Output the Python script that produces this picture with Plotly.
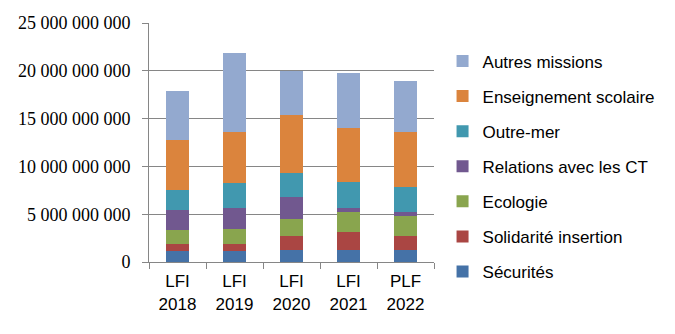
import plotly.graph_objects as go

# Budget by mission and finance law, in euros
categories = ["LFI<br>2018", "LFI<br>2019", "LFI<br>2020", "LFI<br>2021", "PLF<br>2022"]

securites = [1.15e9, 1.15e9, 1.26e9, 1.26e9, 1.26e9]
solidarite_insertion = [0.74e9, 0.74e9, 1.46e9, 1.88e9, 1.46e9]
ecologie = [1.46e9, 1.57e9, 1.78e9, 2.10e9, 2.10e9]
relations_ct = [2.10e9, 2.20e9, 2.31e9, 0.42e9, 0.42e9]
outre_mer = [2.13e9, 2.62e9, 2.51e9, 2.72e9, 2.62e9]
enseignement_scolaire = [5.23e9, 5.34e9, 6.08e9, 5.66e9, 5.76e9]
autres_missions = [5.10e9, 8.27e9, 4.61e9, 5.76e9, 5.34e9]

series = [
    ("Sécurités", securites, "#4572A7"),
    ("Solidarité insertion", solidarite_insertion, "#AA4643"),
    ("Ecologie", ecologie, "#89A54E"),
    ("Relations avec les CT", relations_ct, "#71588F"),
    ("Outre-mer", outre_mer, "#4198AF"),
    ("Enseignement scolaire", enseignement_scolaire, "#DB843D"),
    ("Autres missions", autres_missions, "#93A9CF"),
]

fig = go.Figure()
for i, (name, values, color) in enumerate(series):
    fig.add_trace(go.Bar(
        x=categories, y=values, name=name,
        marker=dict(color=color, line=dict(width=0)),
        legendgroup=name,
        legendrank=1000 - i,  # top segment listed first
    ))

grid = "#868686"
fig.update_layout(
    barmode="stack",
    bargap=0.6,
    width=675, height=334,
    margin=dict(l=149, r=241, t=23, b=72),
    paper_bgcolor="white", plot_bgcolor="white",
    separators=", ",
    showlegend=True,
    legend=dict(
        traceorder="grouped",
        x=1.03, xanchor="left",
        y=0.40, yanchor="middle",
        maxheight=320,
        font=dict(family="Liberation Sans", size=17, color="#000000"),
        tracegroupgap=10,
        itemwidth=30,
    ),
    xaxis=dict(
        showline=True, linecolor=grid, linewidth=1,
        ticks="outside", ticklen=6, tickcolor=grid,
        tickson="boundaries",
        ticklabelstandoff=4,
        tickfont=dict(family="Liberation Sans", size=17, color="#000000"),
        showgrid=False,
    ),
    yaxis=dict(
        range=[0, 25e9],
        dtick=5e9,
        tickformat=",d",
        showline=True, linecolor=grid, linewidth=1,
        ticks="outside", ticklen=6, tickcolor=grid,
        showgrid=True, gridcolor=grid, gridwidth=1,
        zeroline=False,
        ticklabelstandoff=8,
        tickfont=dict(family="Liberation Serif", size=18, color="#000000"),
    ),
)

fig.write_html("out.html")
